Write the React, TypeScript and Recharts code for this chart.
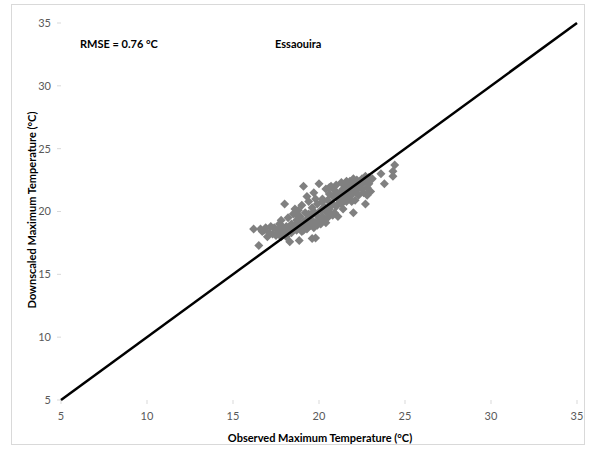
import React from 'react';
import { ScatterChart, Scatter, XAxis, YAxis } from 'recharts';

// observed vs downscaled daily max temperature, Essaouira (°C)
const observed = [
  16.2, 16.5, 16.6, 16.7, 16.8, 16.9, 17.0, 17.1, 17.2, 17.3, 17.4, 17.5, 17.6, 17.7, 17.7,
  17.8, 17.8, 17.8, 17.9, 18.0, 18.0, 18.1, 18.1, 18.2, 18.2, 18.3, 18.3, 18.4, 18.4, 18.4,
  18.5, 18.5, 18.6, 18.6, 18.7, 18.7, 18.7, 18.8, 18.8, 18.85, 18.9, 18.9, 19.0, 19.0, 19.1,
  19.1, 19.1, 19.2, 19.2, 19.3, 19.3, 19.3, 19.4, 19.4, 19.4, 19.5, 19.5, 19.6, 19.6, 19.6,
  19.7, 19.7, 19.7, 19.8, 19.8, 19.8, 19.8, 19.9, 19.9, 20.0, 20.0, 20.0, 20.1, 20.1, 20.2,
  20.2, 20.2, 20.3, 20.3, 20.4, 20.4, 20.4, 20.5, 20.5, 20.6, 20.6, 20.6, 20.7, 20.7, 20.8,
  20.8, 20.8, 20.9, 20.9, 21.0, 21.0, 21.0, 21.1, 21.1, 21.2, 21.2, 21.3, 21.3, 21.3, 21.4,
  21.4, 21.5, 21.5, 21.5, 21.6, 21.6, 21.7, 21.7, 21.8, 21.8, 21.8, 21.9, 21.9, 22.0, 22.0,
  22.0, 22.0, 22.1, 22.1, 22.2, 22.2, 22.3, 22.3, 22.4, 22.5, 22.5, 22.6, 22.6, 22.7, 22.7,
  22.8, 22.8, 22.8, 22.9, 22.9, 23.0, 23.1, 23.6, 23.8, 24.3, 24.3, 24.4,
];
const downscaled = [
  18.6, 17.3, 18.6, 18.4, 18.5, 18.7, 18.0, 18.3, 18.8, 18.2, 18.7, 18.1, 18.5, 18.3, 19.0,
  18.9, 18.0, 19.3, 18.6, 18.2, 20.6, 18.8, 18.0, 18.4, 19.5, 18.7, 17.6, 19.0, 18.3, 18.6,
  19.8, 18.6, 18.9, 20.2, 19.3, 18.5, 19.7, 19.0, 20.1, 17.7, 18.7, 19.6, 18.4, 20.5, 22.0,
  19.2, 18.5, 18.8, 19.9, 19.4, 18.6, 21.2, 20.8, 19.0, 19.8, 19.7, 18.9, 20.3, 19.3, 17.85,
  18.7, 21.5, 20.0, 17.9, 19.8, 19.1, 21.0, 20.6, 18.9, 19.5, 22.2, 19.2, 20.1, 19.0, 21.0,
  19.6, 20.8, 20.4, 19.3, 21.8, 20.0, 19.1, 19.5, 20.9, 21.4, 20.2, 21.9, 19.8, 22.0, 20.6,
  21.2, 19.7, 19.9, 21.7, 20.4, 22.1, 21.4, 21.0, 19.6, 21.5, 20.7, 22.3, 21.1, 20.6, 20.2,
  21.8, 22.0, 21.3, 21.0, 20.8, 22.4, 21.6, 22.1, 21.2, 22.4, 21.6, 20.8, 21.9, 22.3, 21.5,
  22.6, 19.9, 22.0, 20.9, 21.7, 22.5, 21.3, 22.0, 22.2, 21.8, 22.6, 22.3, 21.5, 20.6, 22.8,
  21.9, 22.5, 21.3, 22.2, 22.7, 21.6, 22.6, 23.0, 22.2, 22.8, 23.2, 23.7,
];

// 1:1 reference line
const lineX = [5, 35];
const lineY = [5, 35];

const ticks = [5, 10, 15, 20, 25, 30, 35];

const points = observed.map((x, i) => ({ x, y: downscaled[i] }));
const oneToOne = lineX.map((x, i) => ({ x, y: lineY[i] }));

const FONT = 'Lato, "Open Sans", sans-serif';

const Diamond = (props: any) => {
  const { cx, cy } = props;
  const r = 4.5;
  return (
    <polygon
      points={`${cx},${cy - r} ${cx + r},${cy} ${cx},${cy + r} ${cx - r},${cy}`}
      fill="#808080"
    />
  );
};

const titleStyle: React.CSSProperties = {
  position: 'absolute',
  fontFamily: FONT,
  fontWeight: 700,
  fontSize: 11,
  color: '#000',
  whiteSpace: 'nowrap',
};

export default function App() {
  return (
    <div style={{ position: 'absolute', left: 0, top: 0, width: 589, height: 453, background: '#fff' }}>
      <div
        style={{
          position: 'absolute',
          left: 11,
          top: 4,
          width: 574,
          height: 441,
          border: '1px solid #d9d9d9',
          boxSizing: 'border-box',
        }}
      />
      <div style={{ position: 'absolute', left: 0, top: 0 }}>
        <ScatterChart width={589} height={453} margin={{ top: 23, right: 12, bottom: 23, left: 17 }}>
          <XAxis
            type="number"
            dataKey="x"
            domain={[5, 35]}
            ticks={ticks}
            height={30}
            axisLine={false}
            tickLine={{ stroke: '#d9d9d9' }}
            tickSize={4}
            tickMargin={8}
            tick={{ fontSize: 11, fill: '#595959', fontFamily: FONT }}
          />
          <YAxis
            type="number"
            dataKey="y"
            domain={[5, 35]}
            ticks={ticks}
            width={44}
            axisLine={false}
            tickLine={{ stroke: '#d9d9d9' }}
            tickSize={4}
            tickMargin={6}
            tick={{ fontSize: 11, fill: '#595959', fontFamily: FONT }}
          />
          <Scatter data={points} shape={<Diamond />} isAnimationActive={false} />
          <Scatter
            data={oneToOne}
            line={{ stroke: '#000', strokeWidth: 2.5 }}
            shape={() => null}
            isAnimationActive={false}
          />
        </ScatterChart>
      </div>
      <div style={{ ...titleStyle, left: 80, top: 37 }}>RMSE = 0.76 °C</div>
      <div style={{ ...titleStyle, left: 275, top: 37 }}>Essaouira</div>
      <div style={{ ...titleStyle, left: 320, top: 437, transform: 'translate(-50%, -50%)' }}>
        Observed Maximum Temperature (°C)
      </div>
      <div
        style={{
          ...titleStyle,
          left: 31,
          top: 210,
          transform: 'translate(-50%, -50%) rotate(-90deg)',
        }}
      >
        Downscaled Maximum Temperature (°C)
      </div>
    </div>
  );
}
